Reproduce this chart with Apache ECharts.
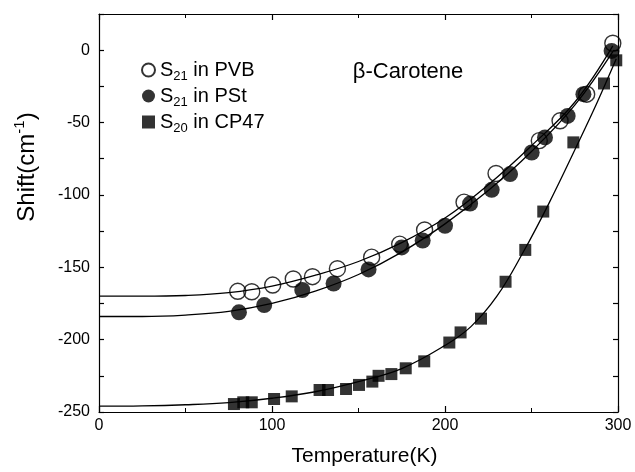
<!DOCTYPE html>
<html><head><meta charset="utf-8">
<script src="https://cdn.jsdelivr.net/npm/echarts@6/dist/echarts.min.js"></script>
<style>html,body{margin:0;padding:0;background:#fff}#c{width:635px;height:472px}</style>
</head><body><div id="c"></div>
<script>
// ---- data ----
const seriesNames = ['S21 in PVB', 'S21 in PSt', 'S20 in CP47'];
const xTicks = [0, 100, 200, 300];
const yTicks = [-250, -200, -150, -100, -50, 0];

const pvbT     = [80.2, 88.3, 100.4, 112.3, 123.4, 137.8, 157.6, 173.8, 188.2, 211, 229.5, 254.5, 266.5, 281.9, 297];
const pvbShift = [-166.6, -166.9, -162.3, -158.1, -156.5, -151, -143, -134, -124.2, -105, -85.2, -62.5, -48.8, -30.4, 4.8];

const pstT     = [80.9, 95.5, 117.5, 135.6, 155.8, 175, 187.1, 200, 214.5, 227, 237.6, 250.1, 257.8, 270.9, 280, 296.3];
const pstShift = [-181.1, -176.1, -165.7, -161.2, -151.5, -136.3, -131.5, -121.3, -106, -96.5, -85.6, -70.7, -60.3, -45.4, -30.4, -0.5];

const cpT      = [78, 83.4, 88.3, 101.2, 111.4, 127.5, 132.4, 142.8, 150.3, 158, 161.6, 169, 177.3, 188, 202.5, 209, 220.8, 235, 246.4, 256.8, 274.2, 291.9, 299];
const cpShift  = [-244.5, -243.3, -243.3, -241, -239.2, -234.8, -234.8, -234.1, -231.3, -229, -225, -223.8, -219.8, -215, -202, -195, -185.5, -160, -138, -111.5, -63.7, -23, -7];

const pvbFitT     = [0, 25, 50, 75, 100, 125, 150, 175, 200, 225, 250, 275, 297];
const pvbFitShift = [-170, -170, -169.5, -167.5, -163, -155.5, -146, -133, -116, -93, -66, -36, 3];
const pstFitT     = [0, 25, 50, 75, 100, 125, 150, 175, 200, 225, 250, 275, 297];
const pstFitShift = [-184, -184, -183, -180.5, -175, -166.5, -155, -139.5, -120, -97, -70, -38, -1];
const cpFitT      = [0, 25, 50, 75, 100, 125, 150, 175, 200, 215, 230, 245, 260, 277, 288, 299];
const cpFitShift  = [-246, -245.8, -245, -243.5, -240.5, -236, -229, -220, -204, -191, -170, -140, -106, -64, -36, -6];

// ---- chart ----
const FONT = '"Liberation Sans", Arial, Helvetica, sans-serif';
function pairs(xs, ys) { return xs.map((x, i) => [x, ys[i]]); }

const lineBlack = { color: '#000', width: 1.2 };
function xAxisDef(pos, showLabel) {
  return {
    type: 'value', position: pos, min: 0, max: 300, interval: 100,
    axisLine: { show: true, onZero: false, lineStyle: lineBlack },
    axisTick: { show: true, inside: true, length: 6, lineStyle: lineBlack },
    minorTick: { show: true, splitNumber: 2, length: 4, lineStyle: { color: '#000', width: 1 } },
    splitLine: { show: false },
    axisLabel: { show: showLabel, fontSize: 16, color: '#000', fontFamily: FONT, margin: 6,
      formatter: v => xTicks.includes(v) ? String(v) : '' }
  };
}
function yAxisDef(pos, showLabel) {
  return {
    type: 'value', position: pos, min: -250, max: 25, interval: 25,
    axisLine: { show: true, onZero: false, lineStyle: lineBlack },
    axisTick: { show: true, inside: true, length: 5, lineStyle: lineBlack },
    splitLine: { show: false },
    axisLabel: { show: showLabel, fontSize: 16, color: '#000', fontFamily: FONT, margin: 9,
      formatter: v => yTicks.includes(v) ? String(v) : '' }
  };
}

const xBottom = xAxisDef('bottom', true);
xBottom.name = 'Temperature(K)';
xBottom.nameLocation = 'middle';
xBottom.nameGap = 34;
xBottom.nameTextStyle = { fontSize: 21, color: '#000', fontFamily: FONT, padding: [0, 0, 0, 12] };

const chart = echarts.init(document.getElementById('c'), null, { renderer: 'canvas' });
chart.setOption({
  animation: false,
  backgroundColor: '#fff',
  grid: { left: 99, right: 17, top: 14, bottom: 59, containLabel: false },
  xAxis: [xBottom, xAxisDef('top', false)],
  yAxis: [yAxisDef('left', true), yAxisDef('right', false)],
  legend: {
    data: seriesNames, orient: 'vertical', left: 141, top: 60, padding: 0,
    itemWidth: 13, itemHeight: 13, itemGap: 3,
    formatter: name => {
      const m = name.match(/^S(\d+)(.*)$/);
      return '{b|S}{s|' + m[1] + '}{b|' + m[2] + '}';
    },
    textStyle: {
      rich: {
        b: { fontSize: 20, fontFamily: FONT, color: '#000', lineHeight: 26 },
        s: { fontSize: 13, fontFamily: FONT, color: '#000', lineHeight: 13, verticalAlign: 'bottom' }
      }
    }
  },
  graphic: [
    { type: 'text', x: 27, y: 167, rotation: Math.PI / 2,
      style: { text: '{a|Shift(cm}{s|-1}{a|)}', align: 'center', verticalAlign: 'middle',
        rich: {
          a: { fontSize: 24, fontFamily: FONT, fill: '#000', lineHeight: 30 },
          s: { fontSize: 15, fontFamily: FONT, fill: '#000', lineHeight: 15, verticalAlign: 'top' }
        } } },
    { type: 'text', x: 408, y: 72,
      style: { text: 'β-Carotene', fontSize: 22, fontFamily: FONT, fill: '#000', align: 'center', verticalAlign: 'middle' } }
  ],
  series: [
    { type: 'line', name: 'fitPVB', data: pairs(pvbFitT, pvbFitShift), smooth: 0.4, showSymbol: false,
      lineStyle: { color: '#000', width: 1.3 }, z: 1, silent: true },
    { type: 'line', name: 'fitPSt', data: pairs(pstFitT, pstFitShift), smooth: 0.4, showSymbol: false,
      lineStyle: { color: '#000', width: 1.3 }, z: 1, silent: true },
    { type: 'line', name: 'fitCP', data: pairs(cpFitT, cpFitShift), smooth: 0.4, showSymbol: false,
      lineStyle: { color: '#000', width: 1.3 }, z: 1, silent: true },
    { type: 'scatter', name: seriesNames[0], data: pairs(pvbT, pvbShift), symbol: 'circle', symbolSize: 16,
      itemStyle: { color: 'rgba(255,255,255,0)', borderColor: '#000', borderWidth: 1.4 }, z: 2 },
    { type: 'scatter', name: seriesNames[2], data: pairs(cpT, cpShift), symbol: 'rect', symbolSize: 12,
      itemStyle: { color: '#000' }, z: 3 },
    { type: 'scatter', name: seriesNames[1], data: pairs(pstT, pstShift), symbol: 'circle', symbolSize: 16,
      itemStyle: { color: '#000' }, z: 4 }
  ]
});
</script>
</body></html>
